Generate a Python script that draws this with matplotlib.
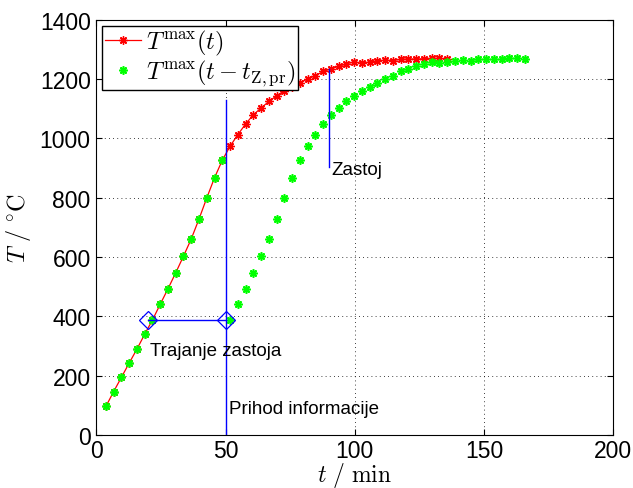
import numpy as np
import matplotlib
matplotlib.use('Agg')
import matplotlib.pyplot as plt

# measured maximum temperature, one point every 3 min
t_red = [3.75 + 3 * k for k in range(45)]
T_red = [97, 147, 195, 243, 290, 340, 388, 441, 493, 547, 603, 661, 728, 799,
         867, 926, 973, 1012, 1048, 1079, 1102, 1124, 1143, 1160, 1173, 1186,
         1200, 1211, 1225, 1234, 1242, 1251, 1257, 1253, 1257, 1261, 1263,
         1262, 1266, 1267, 1267, 1268, 1269, 1269, 1268]

# delayed curve: same points until the information arrives, then shifted
t_info = 50
t_shift = 30
t_green = [t for t in t_red if t < t_info] + [t + t_shift for t in t_red if t + t_shift > t_info]
T_green = [T for t, T in zip(t_red, T_red) if t < t_info] + \
          [T for t, T in zip(t_red, T_red) if t + t_shift > t_info]

plt.rcParams['font.family'] = ['Liberation Sans', 'DejaVu Sans']
plt.rcParams['mathtext.fontset'] = 'cm'

fig = plt.figure(figsize=(6.33, 4.89), dpi=100)
ax = fig.add_axes([0.152, 0.108, 0.817, 0.85])

star = (8, 2, 0)  # matlab-like asterisk
ax.plot(t_red, T_red, '-', color='red', lw=0.9, marker=star, ms=6, mew=1,
        label=r'$T^{\max}(t)$')
ax.plot(t_green, T_green, ls='none', color='#00ff00', marker=star, ms=6, mew=1.2,
        label=r'$T^{\max}(t-t_{\mathrm{Z,pr}})$')

# annotations
ax.plot([t_info, t_info], [0, 1130], color='blue', lw=1)
ax.plot([90, 90], [902, 1233], color='blue', lw=1)
ax.plot([20, 50], [387, 387], color='blue', lw=1)
ax.plot([20, 50], [387, 387], 'D', color='blue', mfc='none', ms=9, mew=0.9)
ax.text(91, 895, 'Zastoj', fontsize=13.5, va='center', ha='left')
ax.text(20.7, 285, 'Trajanje zastoja', fontsize=13.5, va='center', ha='left')
ax.text(51.5, 90, 'Prihod informacije', fontsize=13.5, va='center', ha='left')

ax.set_xlim(0, 200)
ax.set_ylim(0, 1400)
ax.set_xticks([0, 50, 100, 150, 200])
ax.set_yticks(np.arange(0, 1401, 200))
ax.grid(True, color='black', linestyle=(0, (1, 4)), lw=0.6)
ax.tick_params(direction='in', top=True, right=True, labelsize=16.5, length=4, pad=4)
ax.tick_params(axis='x', pad=2.5)
ax.set_xlabel(r'$t\ /\ \mathrm{min}$', fontsize=17, labelpad=-1)
ax.set_ylabel(r'$T\ /\ ^{\circ}\mathrm{C}$', fontsize=17.5, labelpad=5)

leg = ax.legend(loc='upper left', fontsize=17.5, fancybox=False, framealpha=1,
                edgecolor='black', borderpad=0.1, handletextpad=0.2,
                labelspacing=0.0, borderaxespad=0.25, handlelength=1.5)
leg.get_frame().set_linewidth(1)

fig.savefig('out.png', dpi=100)
